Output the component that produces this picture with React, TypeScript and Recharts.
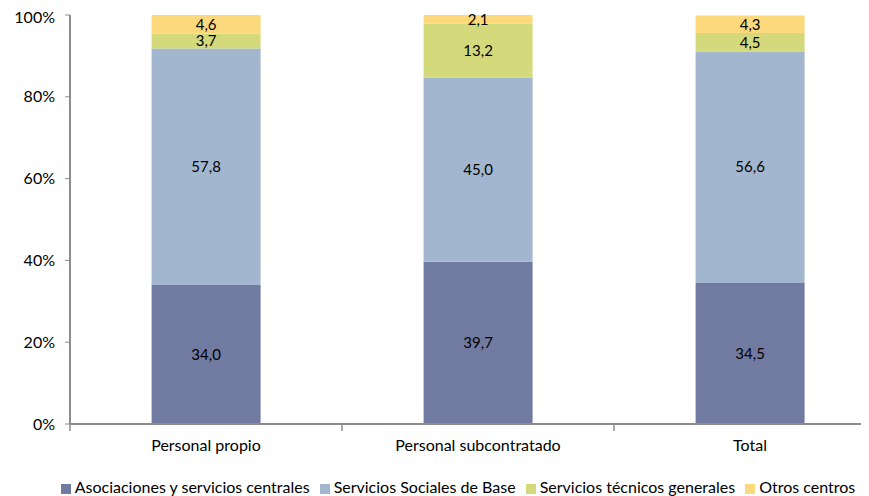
import React from 'react';
import { BarChart, Bar, XAxis, YAxis, Legend, LabelList } from 'recharts';

const categories = ['Personal propio', 'Personal subcontratado', 'Total'];
const asociaciones = [34.0, 39.7, 34.5];
const serviciosSociales = [57.8, 45.0, 56.6];
const serviciosTecnicos = [3.7, 13.2, 4.5];
const otrosCentros = [4.6, 2.1, 4.3];
const yTicks = [0, 20, 40, 60, 80, 100];
const boundaryTicks = [0, 1, 2, 3];

const series = [
  { key: 'asociaciones', name: 'Asociaciones y servicios centrales', color: '#717ba1' },
  { key: 'sociales', name: 'Servicios Sociales de Base', color: '#a2b7cf' },
  { key: 'tecnicos', name: 'Servicios técnicos generales', color: '#d4da7c' },
  { key: 'otros', name: 'Otros centros', color: '#fcd97c' },
];

const data = categories.map((c, i) => ({
  name: c,
  idx: i + 0.5,
  asociaciones: asociaciones[i],
  sociales: serviciosSociales[i],
  tecnicos: serviciosTecnicos[i],
  otros: otrosCentros[i],
}));

const font = 'Lato, "Open Sans", sans-serif';
const fmt = (v: number) => v.toFixed(1).replace('.', ',');
const order = (item: any) => series.findIndex((s) => s.key === item.dataKey);

export default function App() {
  return (
    <div style={{ width: 861, height: 488, overflow: 'hidden', fontFamily: font }}>
      <BarChart
        width={890}
        height={488}
        data={data}
        margin={{ top: 7, right: 12, bottom: 0, left: 0 }}
        barCategoryGap="30%"
      >
        <XAxis
          xAxisId="a"
          type="number"
          dataKey="idx"
          domain={[0, 3]}
          ticks={boundaryTicks}
          interval={0}
          tickFormatter={() => ' '}
          tick={{ fontSize: 1 }}
          height={1}
          axisLine={{ stroke: '#8c8c8c', strokeWidth: 2 }}
          tickLine={{ stroke: '#8c8c8c', strokeWidth: 1.5 }}
          tickSize={7}
        />
        <XAxis
          xAxisId="b"
          dataKey="name"
          axisLine={false}
          tickLine={false}
          height={29}
          tick={{ fill: '#000', fontSize: 16, fontFamily: font }}
          tickMargin={9}
        />
        <YAxis
          domain={[0, 100]}
          ticks={yTicks}
          allowDataOverflow
          width={62}
          tickFormatter={(v: number) => `${v}%`}
          axisLine={{ stroke: '#8c8c8c', strokeWidth: 2 }}
          tickLine={{ stroke: '#8c8c8c' }}
          tickSize={5}
          tickMargin={10}
          tick={{ fill: '#000', fontSize: 16, fontFamily: font }}
        />
        <Legend
          verticalAlign="bottom"
          iconType="square"
          iconSize={10}
          itemSorter={order}
          wrapperStyle={{ paddingTop: 23, paddingLeft: 32, boxSizing: 'border-box', fontSize: 16, fontFamily: font, color: '#000' }}
          formatter={(value: string) => <span style={{ color: '#000' }}>{value}</span>}
        />
        {series.map((s) => (
          <Bar
            key={s.key}
            xAxisId="b"
            dataKey={s.key}
            name={s.name}
            stackId="a"
            fill={s.color}
            isAnimationActive={false}
          >
            <LabelList
              dataKey={s.key}
              position="center"
              formatter={(v: number) => fmt(v)}
              style={{ fill: '#000', fontSize: 15, fontFamily: font }}
            />
          </Bar>
        ))}
      </BarChart>
    </div>
  );
}
